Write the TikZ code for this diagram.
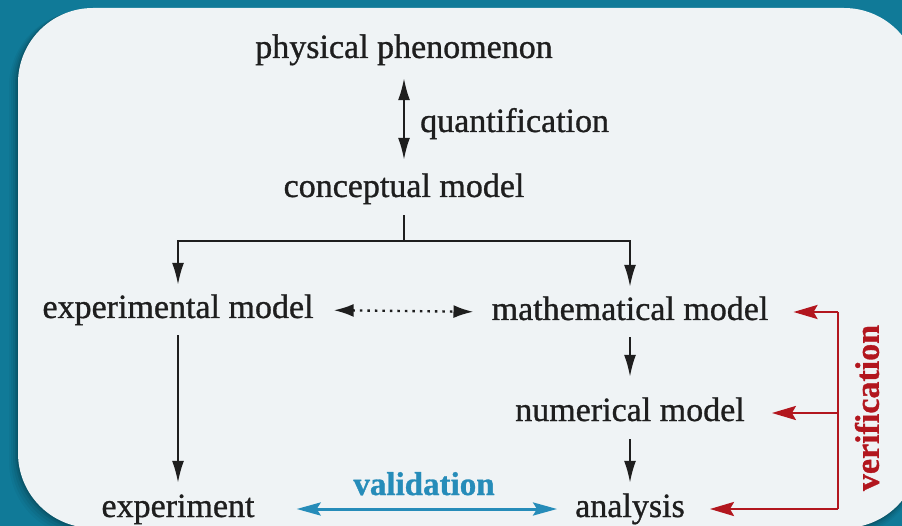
\documentclass[tikz,border=0pt]{standalone}
\usepackage{fontspec}
\setmainfont{Liberation Serif}[FakeBold=0.9]
\usetikzlibrary{arrows.meta}
\definecolor{tealbg}{RGB}{16,122,152}
\definecolor{card}{RGB}{239,243,245}
\definecolor{ink}{RGB}{30,30,30}
\definecolor{vred}{RGB}{178,22,30}
\definecolor{vblue}{RGB}{38,140,185}
\tikzset{
  lbl/.style={font=\fontsize{34}{40}\selectfont, text=ink, inner sep=0pt,
    text height=24pt, text depth=8pt, anchor=base},
  blk/.style={draw=ink, line width=2pt},
  blktip/.tip={Latex[length=22pt,width=12pt]},
  dottip/.tip={Latex[length=20pt,width=13pt]},
  blkarr/.style={blk, -blktip},
  redline/.style={draw=vred, line width=2.6pt},
  redarr/.style={redline, -{Stealth[length=24pt,width=14pt,inset=4pt]}},
}
\begin{document}
\begin{tikzpicture}[x=1pt,y=-1pt]
\useasboundingbox (0,0) rectangle (902,526);
\fill[tealbg] (0,0) rectangle (902,526);
% soft shadow of card
\foreach \d/\o in {9/0.04,7/0.05,5/0.06,3/0.08,1.5/0.1}
  \fill[black, opacity=\o, rounded corners=76pt] (18-\d,8+0.3*\d) rectangle (919,528+\d);
\fill[card, rounded corners=75pt] (18,8) rectangle (919,528);

% nodes
\node[lbl] (phys) at (404,58) {physical phenomenon};
\node[lbl, anchor=base west] (quant) at (420,132) {quantification};
\node[lbl] (conc) at (404,197) {conceptual model};
\node[lbl] (expm) at (178,318) {experimental model};
\node[lbl] (math) at (630,320) {mathematical model};
\node[lbl] (num) at (630,421) {numerical model};
\node[lbl] (expt) at (178,517) {experiment};
\node[lbl] (anal) at (630,517) {analysis};
\node[lbl, font=\fontsize{33}{40}\selectfont\bfseries, text=vblue] (val) at (424,495) {validation};
\node[font=\fontsize{34}{40}\selectfont\bfseries, text=vred, inner sep=0pt, rotate=90] (ver) at (867,408) {verification};

\coordinate (bar) at (404,241);
\coordinate (vx) at (838,0);

% connectors
\draw[blk, blktip-blktip, shorten <=12pt, shorten >=13pt] (phys.south) -- (conc.north);
\draw[blk, shorten <=10pt] (conc.south) -- (bar);
\draw[blkarr, shorten >=9pt] (bar) -| (expm.north);
\draw[blkarr, shorten >=9pt] (bar) -| (math.north);
\draw[draw=ink, line width=2.4pt, dash pattern=on 2.5pt off 5pt,
  dottip-dottip, shorten <=20pt, shorten >=18pt]
  (expm.east) -- (math.west);
\draw[blkarr, shorten <=9pt, shorten >=20pt] (math.south) -- (num.north);
\draw[blkarr, shorten <=10pt, shorten >=10pt] (num.south) -- (anal.north);
\draw[blkarr, shorten <=9pt, shorten >=10pt] (expm.south) -- (expt.north);
\draw[draw=vblue, line width=3pt,
  {Stealth[length=24pt,width=13pt,inset=4pt]}-{Stealth[length=24pt,width=13pt,inset=4pt]},
  shorten <=42pt, shorten >=18pt] (expt.east) -- (anal.west);

% verification
\draw[redline] (math.east -| vx) -- (anal.east -| vx);
\draw[redarr, shorten >=25pt] (math.east -| vx) -- (math.east);
\draw[redarr, shorten >=27pt] (num.east -| vx) -- (num.east);
\draw[redarr, shorten >=25pt] (anal.east -| vx) -- (anal.east);
\end{tikzpicture}
\end{document}
